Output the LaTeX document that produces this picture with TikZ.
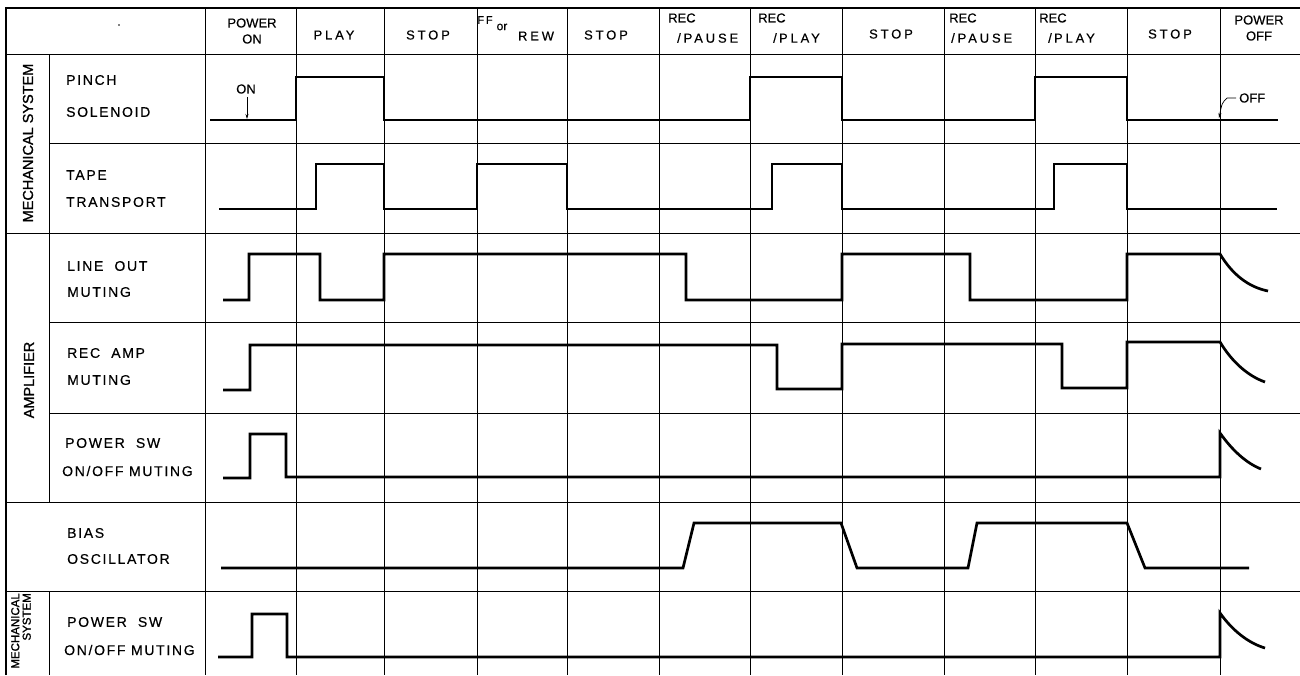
\documentclass[tikz,border=0pt]{standalone}
\usepackage{fontspec}
\setmainfont{Liberation Sans}
\newfontfamily\lblfam[LetterSpace=12,FakeBold=0.4]{Liberation Sans}
\newfontfamily\hdrfam[FakeBold=0.4]{Liberation Sans}
\newfontfamily\widefam[LetterSpace=22,FakeBold=0.4]{Liberation Sans}
\newfontfamily\grpfam[FakeBold=1.2]{Liberation Sans}
\usetikzlibrary{arrows.meta}
\begin{document}
\begin{tikzpicture}[x=1pt,y=-1pt,
  gridline/.style={line width=0.8pt},
  frameline/.style={line width=2.2pt},
  wave/.style={line width=2.7pt, line join=miter},
  lbl/.style={anchor=west, inner sep=0pt, font=\lblfam\fontsize{14}{16}\selectfont},
  hdr/.style={inner sep=0pt, font=\hdrfam\fontsize{13}{16}\selectfont, align=center},
  hdrw/.style={inner sep=0pt, font=\widefam\fontsize{13}{16}\selectfont},
  grp/.style={inner sep=0pt, rotate=90, font=\grpfam\fontsize{14.5}{17}\selectfont},
  note/.style={inner sep=0pt, font=\hdrfam\fontsize{13}{15}\selectfont}]
\useasboundingbox (0,0) rectangle (1300,675);
\fill[white] (0,0) rectangle (1300,675);

% ---- grid ----
\foreach \x in {205,296,384,477,567,659,750,842,944,1035,1127,1220}
  \draw[gridline] (\x,8) -- (\x,675);
\draw[gridline] (6,54) -- (1300,54);
\draw[gridline] (49,143) -- (1300,143);
\draw[gridline] (6,233) -- (1300,233);
\draw[gridline] (49,322) -- (1300,322);
\draw[gridline] (49,413) -- (1300,413);
\draw[gridline] (6,502) -- (1300,502);
\draw[gridline] (6,591) -- (1300,591);
\draw[gridline] (49,54) -- (49,502);
\draw[gridline] (49,591) -- (49,675);
\draw[frameline] (6,675) -- (6,8) -- (1300,8);
\fill (119,25) circle (0.9);

% ---- header ----
\node[hdr] (hpon) at (252,31) {POWER\\ON};
\node[hdrw] (hplay) at (334,35) {PLAY};
\node[hdrw] (hstop1) at (428,35) {STOP};
\node[inner sep=0pt, font=\hdrfam\fontsize{11}{12}\selectfont] (hff) at (485,20) {F\,F};
\node[inner sep=0pt, font=\hdrfam\fontsize{12}{13}\selectfont] (hor) at (502,27) {or};
\node[hdrw] (hrew) at (536,36) {REW};
\node[hdrw] (hstop2) at (606,35) {STOP};
\node[note, anchor=west] (hrec1) at (668,18) {REC};
\node[hdrw, anchor=west] (hpau1) at (677,38) {/PAUSE};
\node[note, anchor=west] (hrec2) at (758,18) {REC};
\node[hdrw, anchor=west] (hpla2) at (773,38) {/\,PLAY};
\node[hdrw] (hstop3) at (891,34) {STOP};
\node[note, anchor=west] (hrec3) at (949,18) {REC};
\node[hdrw, anchor=west] (hpau3) at (951,38) {/PAUSE};
\node[note, anchor=west] (hrec4) at (1039,18) {REC};
\node[hdrw, anchor=west] (hpla4) at (1048,38) {/\,PLAY};
\node[hdrw] (hstop4) at (1170,34) {STOP};
\node[hdr] (hpoff) at (1259,28) {POWER\\OFF};

% ---- group labels ----
\node[grp] (gmech) at (28,143) {MECHANICAL SYSTEM};
\node[grp] (gamp) at (29,380) {AMPLIFIER};
\node[inner sep=0pt, rotate=90, anchor=east, align=right,
      font=\grpfam\fontsize{11.5}{11.5}\selectfont] (gmech2) at (21,593) {MECHANICAL\\SYSTEM};

% ---- row labels ----
\node[lbl] (l1a) at (66,80) {PINCH};
\node[lbl] (l1b) at (66,112) {SOLENOID};
\node[lbl] (l2a) at (66,175) {TAPE};
\node[lbl] (l2b) at (66,202) {TRANSPORT};
\node[lbl] (l3a) at (67,266) {LINE\ \ OUT};
\node[lbl] (l3b) at (67,292) {MUTING};
\node[lbl] (l4a) at (67,353) {REC\ \ AMP};
\node[lbl] (l4b) at (67,380) {MUTING};
\node[lbl] (l5a) at (65,443) {POWER\ \ SW};
\node[lbl] (l5b) at (62,471) {ON/OFF MUTING};
\node[lbl] (l6a) at (67,533) {BIAS};
\node[lbl] (l6b) at (67,559) {OSCILLATOR};
\node[lbl] (l7a) at (67,622) {POWER\ \ SW};
\node[lbl] (l7b) at (64,650) {ON/OFF MUTING};

% ---- waveforms ----
% pinch solenoid
\draw[wave] (210,120) -- (296,120) -- (296,77) -- (384,77) -- (384,120)
  -- (750,120) -- (750,77) -- (842,77) -- (842,120)
  -- (1035,120) -- (1035,77) -- (1127,77) -- (1127,120) -- (1278,120);
% tape transport
\draw[wave] (219,209) -- (316,209) -- (316,164) -- (384,164) -- (384,209)
  -- (477,209) -- (477,164) -- (567,164) -- (567,209)
  -- (772,209) -- (772,164) -- (842,164) -- (842,209)
  -- (1054,209) -- (1054,164) -- (1127,164) -- (1127,209) -- (1277,209);
% line out muting
\draw[wave] (223,300) -- (249,300) -- (249,254) -- (320,254) -- (320,300)
  -- (384,300) -- (384,254) -- (686,254) -- (686,300)
  -- (842,300) -- (842,254) -- (970,254) -- (970,300)
  -- (1127,300) -- (1127,254) -- (1220,254)
  .. controls (1232,274) and (1248,287) .. (1268,291);
% rec amp muting
\draw[wave] (223,390) -- (250,390) -- (250,345) -- (777,345) -- (777,389)
  -- (842,389) -- (842,344) -- (1062,344) -- (1062,388)
  -- (1127,388) -- (1127,342) -- (1220,342)
  .. controls (1232,362) and (1248,376) .. (1265,382);
% power sw on/off muting (amplifier)
\draw[wave] (223,478) -- (250,478) -- (250,434) -- (286,434) -- (286,477)
  -- (1220,477) -- (1220,433) .. controls (1232,450) and (1246,463) .. (1261,469);
% bias oscillator
\draw[wave] (221,568) -- (683,568) -- (694,523) -- (841,523) -- (857,568)
  -- (968,568) -- (977,523) -- (1127,523) -- (1145,568) -- (1249,568);
% power sw on/off muting (mechanical)
\draw[wave] (218,657) -- (252,657) -- (252,614) -- (287,614) -- (287,657)
  -- (1220,657) -- (1220,613) .. controls (1232,630) and (1248,643) .. (1265,648);

% ---- ON / OFF markers ----
\node[note] (on) at (246,89) {ON};
\coordinate (ontip) at (247,119);
\draw[line width=0.7pt, -{Stealth[length=5pt,width=3pt]}] (on.south) ++(1,3) -- (ontip);
\node[note, anchor=west] (off) at (1239,98) {OFF};
\coordinate (offtip) at (1219,118);
\draw[line width=0.7pt, -{Stealth[length=5pt,width=3pt]}] (off.west) ++(-3,0) -- ++(-9,0)
  .. controls (1222,103) .. (offtip);
\end{tikzpicture}
\end{document}
